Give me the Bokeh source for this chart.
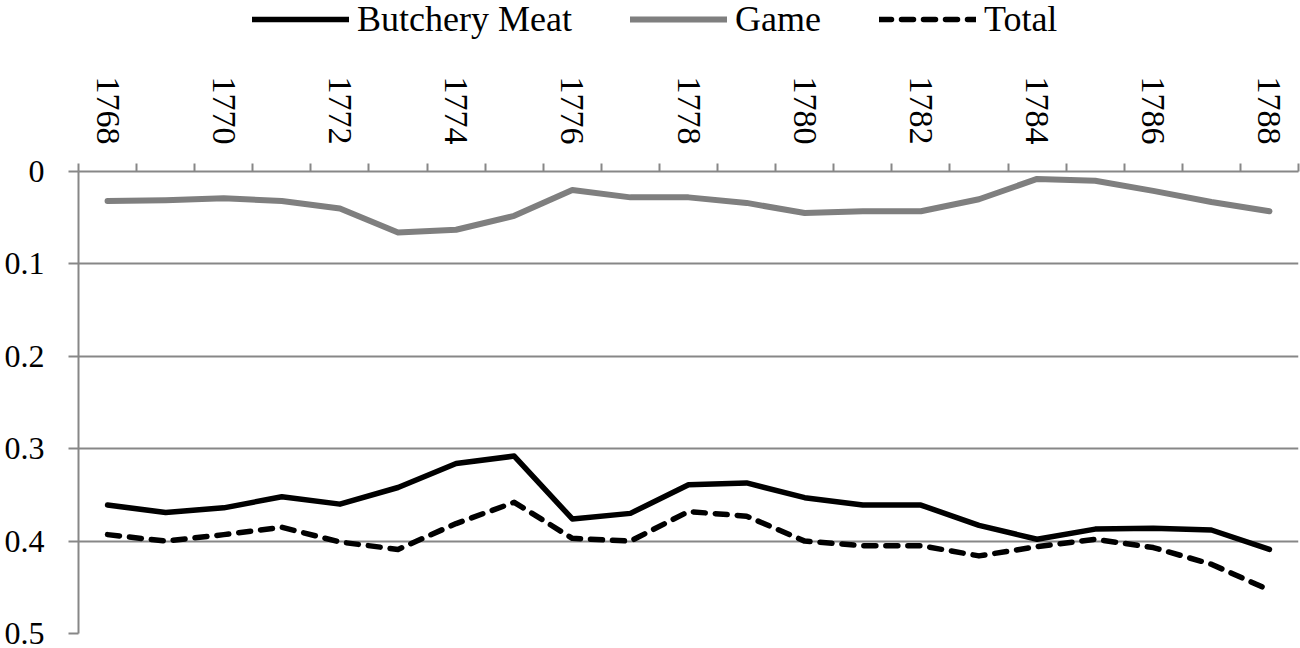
import math
from bokeh.plotting import figure
from bokeh.layouts import column
from bokeh.models import Range1d, FixedTicker, Legend, LegendItem, NumeralTickFormatter
from bokeh.embed import file_html
from bokeh.resources import INLINE

years = list(range(1768, 1789))
butchery = [0.361, 0.369, 0.364, 0.352, 0.360, 0.342, 0.316, 0.308, 0.376, 0.370, 0.339,
            0.337, 0.353, 0.361, 0.361, 0.383, 0.398, 0.387, 0.386, 0.388, 0.409]
game = [0.032, 0.031, 0.029, 0.032, 0.040, 0.066, 0.063, 0.048, 0.020, 0.028, 0.028,
        0.034, 0.045, 0.043, 0.043, 0.030, 0.008, 0.010, 0.021, 0.033, 0.043]
total = [0.393, 0.400, 0.393, 0.385, 0.401, 0.409, 0.381, 0.358, 0.397, 0.400, 0.368,
         0.373, 0.400, 0.405, 0.405, 0.416, 0.406, 0.398, 0.407, 0.425, 0.453]
year_labels = years[::2]
y_ticks = [0, 0.1, 0.2, 0.3, 0.4, 0.5]
series_names = ["Butchery Meat", "Game", "Total"]

FONT = "Liberation Serif"
GRAY = "#878787"
GAME_COLOR = "#7f7f7f"
LEG_H = 50

# ---- main chart ----
p = figure(width=1300, height=648 - LEG_H,
           x_range=Range1d(years[0] - 0.5, years[-1] + 0.5),
           y_range=Range1d(0.5, 0),
           x_axis_location="above",
           output_backend="svg", toolbar_location=None,
           min_border_left=78, min_border_right=2,
           min_border_top=171 - LEG_H, min_border_bottom=15)
p.outline_line_color = None
p.background_fill_color = "white"
p.border_fill_color = "white"

xa = p.xaxis[0]
xa.ticker = FixedTicker(ticks=year_labels,
                        minor_ticks=[y - 0.5 for y in years] + [years[-1] + 0.5])
xa.major_tick_out = 0
xa.major_tick_in = 0
xa.minor_tick_out = 8
xa.minor_tick_in = 0
xa.minor_tick_line_color = GRAY
xa.minor_tick_line_width = 2
xa.axis_line_color = GRAY
xa.axis_line_width = 2
xa.major_label_orientation = -math.pi / 2
xa.major_label_standoff = 19
xa.major_label_text_font = FONT
xa.major_label_text_font_size = "34px"
xa.major_label_text_color = "black"

ya = p.yaxis[0]
ya.ticker = FixedTicker(ticks=y_ticks)
ya.formatter = NumeralTickFormatter(format="0.[0]")
ya.major_tick_out = 10
ya.major_tick_in = 0
ya.minor_tick_out = 0
ya.minor_tick_in = 0
ya.major_tick_line_color = GRAY
ya.major_tick_line_width = 2
ya.axis_line_color = GRAY
ya.axis_line_width = 2
ya.major_label_standoff = 24
ya.major_label_text_font = FONT
ya.major_label_text_font_size = "32px"
ya.major_label_text_color = "black"

p.xgrid.visible = False
p.ygrid.ticker = FixedTicker(ticks=y_ticks)
p.ygrid.grid_line_color = GRAY
p.ygrid.grid_line_width = 2

p.line(years, game, line_color=GAME_COLOR, line_width=6, line_join="round", line_cap="round")
p.line(years, butchery, line_color="black", line_width=5.5, line_join="round", line_cap="round")
p.line(years, total, line_color="black", line_width=5.5, line_dash="12 10",
       line_join="round", line_cap="round")

# ---- legend strip on top (frame aligned with the chart's frame) ----
lg = figure(width=1300, height=LEG_H, x_range=Range1d(0, 1), y_range=Range1d(0, 1),
            x_axis_location=None, y_axis_location=None,
            output_backend="svg", toolbar_location=None, min_border=0)
lg.outline_line_color = None
lg.grid.visible = False
lg.border_fill_color = "white"
# legend swatches: renderers whose data lie outside the visible range
e_b = lg.line([-5, -4], [-5, -4], line_color="black", line_width=5.5, line_cap="round")
e_g = lg.line([-5, -4], [-5, -4], line_color=GAME_COLOR, line_width=6, line_cap="round")
e_t = lg.line([-5, -4], [-5, -4], line_color="black", line_width=5.5, line_dash="12 10",
              line_cap="round")

legend = Legend(items=[LegendItem(label=series_names[0], renderers=[e_b]),
                       LegendItem(label=series_names[1], renderers=[e_g]),
                       LegendItem(label=series_names[2], renderers=[e_t])],
                location=(174, LEG_H - 40), orientation="horizontal",
                glyph_width=97, glyph_height=40, label_height=40,
                label_standoff=8, spacing=58, padding=0, margin=0,
                border_line_color=None, background_fill_alpha=0,
                label_text_font=FONT, label_text_font_size="36px",
                label_text_color="black")
lg.add_layout(legend)

layout = column(lg, p, spacing=0)
open("out.html", "w").write(file_html(layout, INLINE))
